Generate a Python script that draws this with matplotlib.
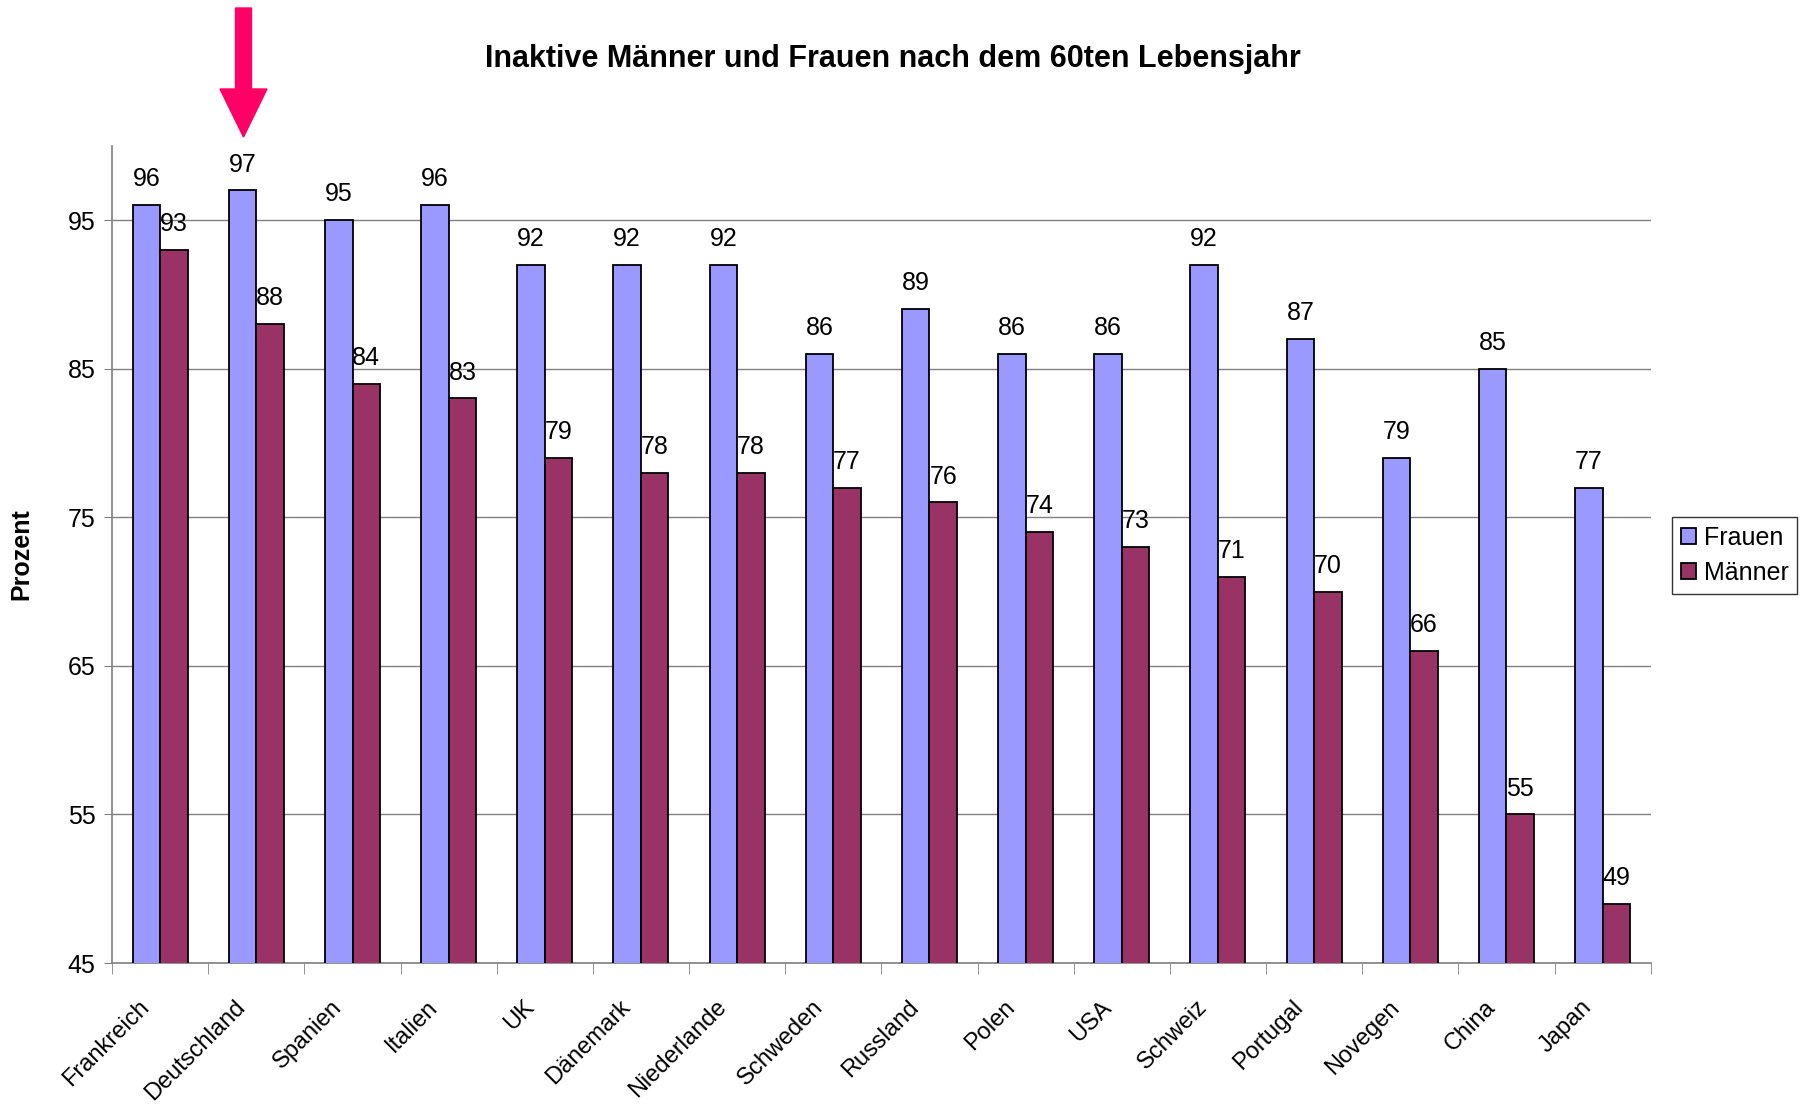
import numpy as np
import matplotlib
matplotlib.use("Agg")
import matplotlib.pyplot as plt
import matplotlib.transforms as mtransforms
from matplotlib.patches import FancyArrow

plt.rcParams['font.family'] = ['Liberation Sans', 'DejaVu Sans']

# --- data ---
laender = ["Frankreich", "Deutschland", "Spanien", "Italien", "UK", "Dänemark",
           "Niederlande", "Schweden", "Russland", "Polen", "USA", "Schweiz",
           "Portugal", "Novegen", "China", "Japan"]
frauen = [96, 97, 95, 96, 92, 92, 92, 86, 89, 86, 86, 92, 87, 79, 85, 77]
maenner = [93, 88, 84, 83, 79, 78, 78, 77, 76, 74, 73, 71, 70, 66, 55, 49]
y_ticks = [45, 55, 65, 75, 85, 95]

col_frauen = '#9999FF'
col_maenner = '#993366'
grid_col = '#808080'

fig = plt.figure(figsize=(18.08, 11.05), dpi=100)
ax = fig.add_axes([0.062, 0.1285, 0.851, 0.7395])

x = np.arange(len(laender))
w = 0.286  # excel gap width 150%

b1 = ax.bar(x - w/2, frauen, w, color=col_frauen, edgecolor='black',
            linewidth=1.3, label='Frauen', zorder=3)
b2 = ax.bar(x + w/2, maenner, w, color=col_maenner, edgecolor='black',
            linewidth=1.3, label='Männer', zorder=3)

# value labels above bars
for bars, vals in [(b1, frauen), (b2, maenner)]:
    for r, v in zip(bars, vals):
        ax.annotate(str(v), (r.get_x() + r.get_width()/2, v),
                    xytext=(0, 10), textcoords='offset points',
                    ha='center', va='bottom', fontsize=18, zorder=4)

ax.set_xlim(-0.5, len(laender) - 0.5)
ax.set_ylim(45, 100)
ax.set_yticks(y_ticks)
ax.tick_params(axis='y', labelsize=18, length=6, color=grid_col, direction='out', pad=6)
ax.yaxis.grid(True, color=grid_col, linewidth=1, zorder=0)

# category ticks at boundaries, labels in the middle
ax.set_xticks(x)
ax.set_xticks(np.arange(len(laender) + 1) - 0.5, minor=True)
ax.tick_params(axis='x', which='major', length=0, pad=0)
ax.tick_params(axis='x', which='minor', length=8, color=grid_col, direction='out')
ax.set_xticklabels(laender, rotation=45, ha='right', va='center',
                   rotation_mode='anchor', fontsize=17)
shift = mtransforms.ScaledTranslation(-14/100, -41/100, fig.dpi_scale_trans)
for lab in ax.get_xticklabels():
    lab.set_transform(lab.get_transform() + shift)

for s in ['top', 'right']:
    ax.spines[s].set_visible(False)
for s in ['left', 'bottom']:
    ax.spines[s].set_color(grid_col)
    ax.spines[s].set_linewidth(1.2)

ax.set_ylabel('Prozent', fontsize=18, fontweight='bold')
ax.yaxis.set_label_coords(-0.051, 0.5)

fig.text(0.494, 0.947, 'Inaktive Männer und Frauen nach dem 60ten Lebensjahr',
         ha='center', va='center', fontsize=22, fontweight='bold')

leg = ax.legend(loc='upper left', bbox_to_anchor=(0.925, 0.532),
                bbox_transform=fig.transFigure, fontsize=18, frameon=True,
                fancybox=False, edgecolor='black', handlelength=0.6,
                handleheight=0.6, handletextpad=0.3, borderpad=0.35,
                labelspacing=0.45, borderaxespad=0)
leg.get_frame().set_linewidth(1)

# pink arrow pointing at Deutschland
arrow = FancyArrow(2.435, 10.97, 0, -1.29, width=0.16, head_width=0.47,
                   head_length=0.48, length_includes_head=True,
                   color='#FF0066', transform=fig.dpi_scale_trans)
fig.patches.append(arrow)

fig.savefig('out.png', dpi=100)
